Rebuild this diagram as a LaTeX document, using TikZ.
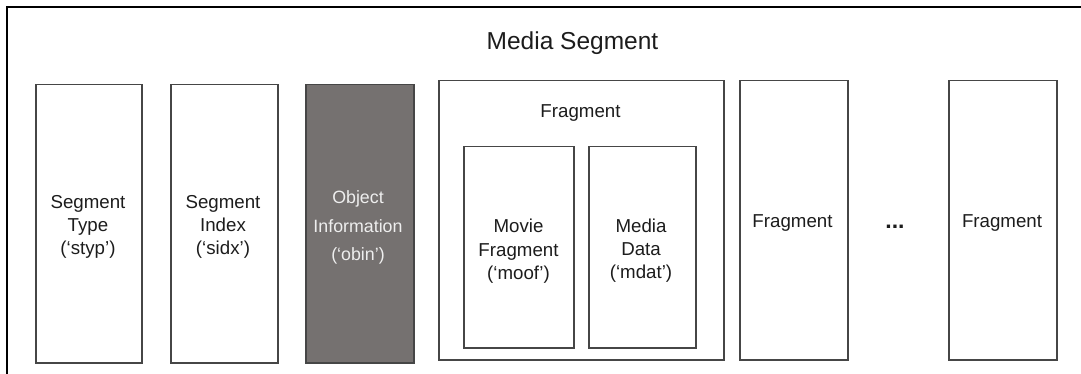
\documentclass[tikz,border=0pt]{standalone}
\usepackage{fontspec}
\setmainfont{Liberation Sans}
\definecolor{boxgray}{HTML}{464646}
\definecolor{txt}{HTML}{1C1C1C}
\definecolor{obinfill}{HTML}{757170}
\definecolor{obintxt}{HTML}{EEEEEE}
\begin{document}
\begin{tikzpicture}[x=1pt,y=-1pt,
  frame/.style={draw=black, line width=2pt},
  box/.style={draw=boxgray, line width=1.5pt, inner sep=0pt, anchor=north west},
  lbl/.style={inner sep=0pt, align=center, text=txt, font=\fontsize{18.7}{23.3}\selectfont},
  title/.style={inner sep=0pt, text=txt, font=\fontsize{24.5}{28}\selectfont}]
\useasboundingbox (0,0) rectangle (1081,374);
% outer frame (cropped on right and bottom)
\coordinate (fa) at (7,376);
\coordinate (fb) at (7,7);
\coordinate (fc) at (1083,7);
\draw[frame] (fa) -- (fb) -- (fc);
\node[title, anchor=base] (ttl) at (572.5,50) {Media Segment};
% boxes
\node[box, minimum width=106pt, minimum height=278pt] (styp) at (35,84) {};
\node[box, minimum width=107pt, minimum height=278pt] (sidx) at (170,84) {};
\node[box, fill=obinfill, minimum width=108pt, minimum height=278pt] (obin) at (305,84) {};
\node[box, minimum width=285pt, minimum height=279pt] (frag1) at (438,80) {};
\node[box, minimum width=110pt, minimum height=201pt] (moof) at (463,146) {};
\node[box, minimum width=107pt, minimum height=201pt] (mdat) at (588,146) {};
\node[box, minimum width=108pt, minimum height=279pt] (frag2) at (739,80) {};
\node[box, minimum width=108pt, minimum height=279pt] (frag3) at (948,80) {};
% labels
\node[lbl, anchor=north] (tstyp) at (88,195) {Segment\\Type\\(‘styp’)};
\node[lbl, anchor=north] (tsidx) at (223,195) {Segment\\Index\\(‘sidx’)};
\node[lbl, anchor=north, text=obintxt, font=\fontsize{17.8}{28.5}\selectfont] (tobin) at (358,190.5) {Object\\Information\\(‘obin’)};
\node[lbl, anchor=base] (tfrag1) at (580.5,117.7) {Fragment};
\node[lbl, anchor=north] (tmoof) at (518.5,219) {Movie\\Fragment\\(‘moof’)};
\node[lbl, anchor=north] (tmdat) at (641,218.5) {Media\\Data\\(‘mdat’)};
\node[lbl, anchor=base] (tfrag2) at (792.5,227.7) {Fragment};
\node[lbl, anchor=base] (tfrag3) at (1002,227.7) {Fragment};
\node[lbl, anchor=base, font=\fontsize{23}{26}\selectfont\bfseries] (dots) at (895,229) {...};
\end{tikzpicture}
\end{document}
